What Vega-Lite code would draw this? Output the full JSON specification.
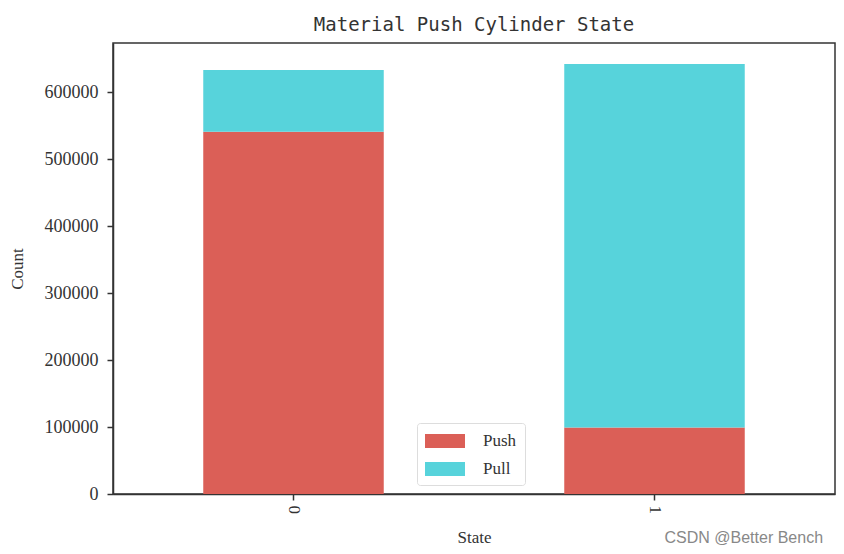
{
  "$schema": "https://vega.github.io/schema/vega-lite/v6.json",
  "autosize": {"type": "none"},
  "width": 722,
  "height": 451,
  "padding": {"left": 113, "top": 43, "right": 9, "bottom": 60},
  "background": "white",
  "title": {
    "text": "Material Push Cylinder State",
    "font": "DejaVu Sans Mono",
    "fontSize": 19,
    "fontWeight": "normal",
    "color": "#333",
    "offset": 8
  },
  "config": {
    "view": {"stroke": "#333", "strokeWidth": 1.5},
    "axis": {
      "labelFont": "Liberation Serif",
      "titleFont": "Liberation Serif",
      "labelColor": "#333",
      "titleColor": "#333",
      "titleFontWeight": "normal",
      "domainColor": "#333",
      "domainWidth": 1.5,
      "tickColor": "#333",
      "tickWidth": 1.5,
      "tickSize": 6,
      "grid": false
    }
  },
  "data": {
    "values": [
      {"State": "0", "Type": "Push", "Count": 541200},
      {"State": "0", "Type": "Pull", "Count": 92100},
      {"State": "1", "Type": "Push", "Count": 99400},
      {"State": "1", "Type": "Pull", "Count": 542800}
    ]
  },
  "layer": [
    {
      "mark": {"type": "bar"},
      "encoding": {
        "x": {
          "field": "State",
          "type": "nominal",
          "scale": {"paddingInner": 0.5, "paddingOuter": 0.25},
          "axis": {
            "labelAngle": 90,
            "labelFontSize": 17,
            "labelPadding": 5,
            "title": "State",
            "titleFontSize": 17,
            "titlePadding": 16
          }
        },
        "y": {
          "field": "Count",
          "type": "quantitative",
          "aggregate": "sum",
          "stack": "zero",
          "scale": {"domain": [0, 673600], "nice": false},
          "axis": {
            "title": "Count",
            "values": [0, 100000, 200000, 300000, 400000, 500000, 600000],
            "format": "d",
            "labelFontSize": 18,
            "labelPadding": 9,
            "titleFontSize": 17,
            "titlePadding": 18
          }
        },
        "color": {
          "field": "Type",
          "type": "nominal",
          "sort": ["Push", "Pull"],
          "scale": {"domain": ["Push", "Pull"], "range": ["#DB5F57", "#57D3DB"]},
          "legend": {
            "title": null,
            "orient": "none",
            "legendX": 304,
            "legendY": 380,
            "symbolType": "M-2,-0.7H2V0.7H-2Z",
            "symbolSize": 400,
            "symbolStrokeWidth": 0,
            "symbolOffset": 10,
            "labelFont": "Liberation Serif",
            "labelFontSize": 17,
            "labelColor": "#333",
            "labelOffset": 28,
            "rowPadding": 10,
            "padding": 8,
            "fillColor": "white",
            "strokeColor": "#ddd",
            "cornerRadius": 3
          }
        },
        "order": {"field": "Type", "sort": "descending"}
      }
    },
    {
      "data": {"values": [{"State": "1", "Count": 0, "label": "CSDN @Better Bench"}]},
      "mark": {
        "type": "text",
        "align": "left",
        "baseline": "middle",
        "dx": 10,
        "dy": 44,
        "font": "Liberation Sans",
        "fontSize": 16,
        "color": "#888"
      },
      "encoding": {
        "x": {"field": "State", "type": "nominal"},
        "y": {"field": "Count", "type": "quantitative"},
        "text": {"field": "label"}
      }
    }
  ]
}
